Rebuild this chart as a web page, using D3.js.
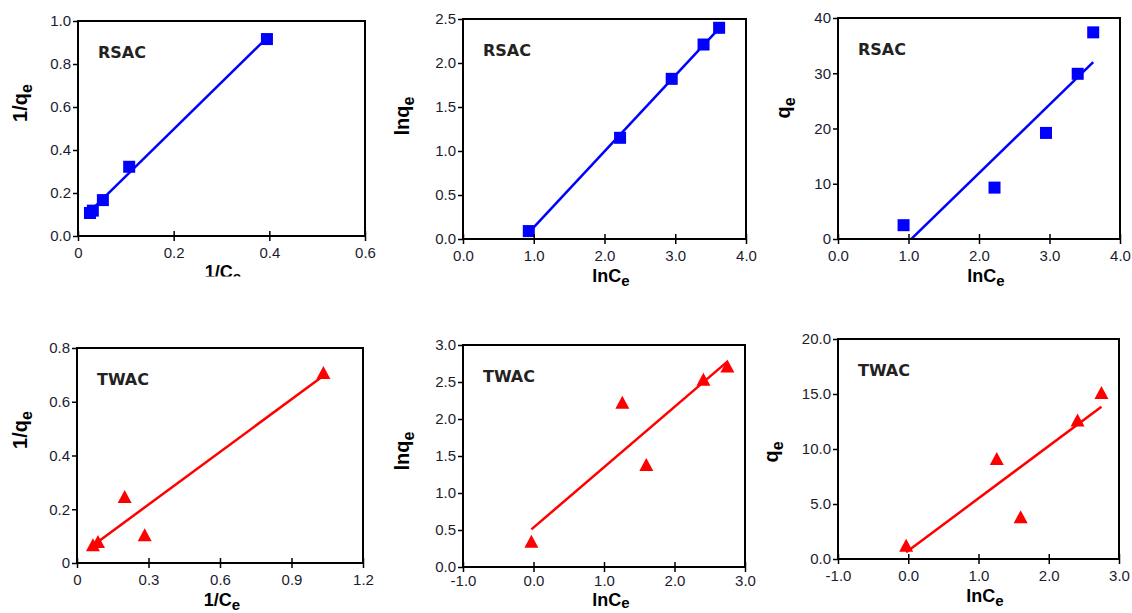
<!DOCTYPE html>
<html>
<head>
<meta charset="utf-8">
<script src="https://cdn.jsdelivr.net/npm/d3@7"></script>
<style>
  body { margin: 0; background: #fff; }
  svg { display: block; }
  .tick text { font-family: "Liberation Sans", Arial, sans-serif; font-size: 15px; fill: #1c1c30; }
  .ttl { font-family: "Liberation Sans", Arial, sans-serif; font-weight: bold; font-size: 18px; fill: #000; }
  .ttl.yt { font-size: 20px; }
  .lbl { font-family: "DejaVu Sans", Verdana, sans-serif; font-weight: bold; font-size: 16px; fill: #222; }
</style>
</head>
<body>
<svg id="chart" width="1132" height="613"></svg>
<script>
// RSAC (squares, blue)
const rsacInvCe = [0.025, 0.031, 0.052, 0.107, 0.395]
const rsacInvQe = [0.107, 0.118, 0.167, 0.322, 0.916]
const rsacLnCe = [0.93, 2.22, 2.95, 3.40, 3.62]
const rsacLnQe = [0.09, 1.15, 1.82, 2.21, 2.40]
const rsacQe = [2.5, 9.3, 19.2, 29.9, 37.4]

// TWAC (triangles, red)
const twacInvCe = [1.034, 0.284, 0.200, 0.088, 0.067]
const twacInvQe = [0.707, 0.103, 0.246, 0.078, 0.066]
const twacLnCe = [-0.03, 1.26, 1.60, 2.41, 2.75]
const twacLnQe = [0.34, 2.22, 1.38, 2.53, 2.71]
const twacQe = [1.2, 9.1, 3.8, 12.6, 15.1]

// tick values and labels
const ticksInvCeR = [0, 0.2, 0.4, 0.6]
const labelsInvCeR = ["0", "0.2", "0.4", "0.6"]
const ticksInvQeR = [0, 0.2, 0.4, 0.6, 0.8, 1.0]
const labelsInvQeR = ["0.0", "0.2", "0.4", "0.6", "0.8", "1.0"]
const ticksLnCeR = [0, 1, 2, 3, 4]
const labelsLnCeR = ["0.0", "1.0", "2.0", "3.0", "4.0"]
const ticksLnQeR = [0, 0.5, 1, 1.5, 2, 2.5]
const labelsLnQeR = ["0.0", "0.5", "1.0", "1.5", "2.0", "2.5"]
const ticksQeR = [0, 10, 20, 30, 40]
const labelsQeR = ["0", "10", "20", "30", "40"]
const ticksInvCeT = [0, 0.3, 0.6, 0.9, 1.2]
const labelsInvCeT = ["0", "0.3", "0.6", "0.9", "1.2"]
const ticksInvQeT = [0, 0.2, 0.4, 0.6, 0.8]
const labelsInvQeT = ["0", "0.2", "0.4", "0.6", "0.8"]
const ticksLnCeT = [-1, 0, 1, 2, 3]
const labelsLnCeT = ["-1.0", "0.0", "1.0", "2.0", "3.0"]
const ticksLnQeT = [0, 0.5, 1, 1.5, 2, 2.5, 3]
const labelsLnQeT = ["0.0", "0.5", "1.0", "1.5", "2.0", "2.5", "3.0"]
const ticksQeT = [0, 5, 10, 15, 20]
const labelsQeT = ["0.0", "5.0", "10.0", "15.0", "20.0"]

const BLUE = "#0000ff"
const RED = "#ff0000"

const svg = d3.select("#chart")

const panels = [
    {x: rsacInvCe, y: rsacInvQe, xt: ticksInvCeR, xl: labelsInvCeR, yt: ticksInvQeR, yl: labelsInvQeR,
     box: [78, 21, 365, 236], xTitle: ["1/C", "e"], yTitle: ["1/q", "e"], xtx: 223, xty: 278, ytx: 27, yty: 103,
     clipTitle: 276.5, name: "RSAC", color: BLUE, marker: "square"},
    {x: rsacLnCe, y: rsacLnQe, xt: ticksLnCeR, xl: labelsLnCeR, yt: ticksLnQeR, yl: labelsLnQeR,
     box: [463, 19, 746, 239], xTitle: ["lnC", "e"], yTitle: ["lnq", "e"], xtx: 611, xty: 282, ytx: 409, yty: 116,
     name: "RSAC", color: BLUE, marker: "square"},
    {x: rsacLnCe, y: rsacQe, xt: ticksLnCeR, xl: labelsLnCeR, yt: ticksQeR, yl: labelsQeR,
     box: [838, 18, 1120, 239], xTitle: ["lnC", "e"], yTitle: ["q", "e"], xtx: 986, xty: 282, ytx: 790, yty: 108,
     name: "RSAC", color: BLUE, marker: "square"},
    {x: twacInvCe, y: twacInvQe, xt: ticksInvCeT, xl: labelsInvCeT, yt: ticksInvQeT, yl: labelsInvQeT,
     box: [77, 348, 363, 563], xTitle: ["1/C", "e"], yTitle: ["1/q", "e"], xtx: 222, xty: 606, ytx: 27, yty: 430,
     name: "TWAC", color: RED, marker: "triangle"},
    {x: twacLnCe, y: twacLnQe, xt: ticksLnCeT, xl: labelsLnCeT, yt: ticksLnQeT, yl: labelsLnQeT,
     box: [463, 345, 745, 567], xTitle: ["lnC", "e"], yTitle: ["lnq", "e"], xtx: 611, xty: 606, ytx: 409, yty: 451,
     subDy: 2, tickY: 19, name: "TWAC", color: RED, marker: "triangle"},
    {x: twacLnCe, y: twacQe, xt: ticksLnCeT, xl: labelsLnCeT, yt: ticksQeT, yl: labelsQeT,
     box: [838, 339, 1119, 559], xTitle: ["lnC", "e"], yTitle: ["q", "e"], xtx: 985, xty: 602, ytx: 778, yty: 452,
     name: "TWAC", color: RED, marker: "triangle"}
]

// least squares fit, used for the trendline
function fit(xs, ys) {
    let mx = d3.mean(xs), my = d3.mean(ys)
    let sxy = 0, sxx = 0
    for (let i = 0; i < xs.length; i++) {
        sxy += (xs[i] - mx) * (ys[i] - my)
        sxx += (xs[i] - mx) * (xs[i] - mx)
    }
    let slope = sxy / sxx
    return {slope: slope, intercept: my - slope * mx}
}

panels.forEach(function(p, idx) {
    let [l, t, r, b] = p.box
    let xs = d3.scaleLinear().domain(d3.extent(p.xt)).range([l, r])
    let ys = d3.scaleLinear().domain(d3.extent(p.yt)).range([b, t])
    let g = svg.append("g")

    let clipId = "clip" + idx
    svg.append("clipPath").attr("id", clipId)
        .append("rect").attr("x", l).attr("y", t).attr("width", r - l).attr("height", b - t)

    // trendline
    let f = fit(p.x, p.y)
    let ext = d3.extent(p.x)
    g.append("line")
        .attr("clip-path", "url(#" + clipId + ")")
        .attr("x1", xs(ext[0])).attr("y1", ys(f.slope * ext[0] + f.intercept))
        .attr("x2", xs(ext[1])).attr("y2", ys(f.slope * ext[1] + f.intercept))
        .attr("stroke", p.color).attr("stroke-width", 2.5)

    // markers
    let pts = p.x.map((v, i) => [v, p.y[i]])
    if (p.marker == "square") {
        g.selectAll(".m").data(pts).enter().append("rect")
            .attr("x", d => xs(d[0]) - 6).attr("y", d => ys(d[1]) - 6)
            .attr("width", 12).attr("height", 12)
            .attr("fill", p.color)
    } else {
        g.selectAll(".m").data(pts).enter().append("path")
            .attr("d", d => {
                let cx = xs(d[0]), cy = ys(d[1])
                return "M" + (cx - 7) + "," + (cy + 6) + "L" + (cx + 7) + "," + (cy + 6) + "L" + cx + "," + (cy - 7) + "Z"
            })
            .attr("fill", p.color)
    }

    // axes
    let xa = g.append("g").attr("transform", "translate(0," + b + ")")
        .call(d3.axisBottom(xs).tickValues(p.xt).tickFormat((d, i) => p.xl[i]).tickSize(5))
    xa.select(".domain").remove()
    xa.selectAll(".tick line").attr("y1", -5).attr("stroke", "#000").attr("stroke-width", 1.5)
    xa.selectAll(".tick text").attr("y", p.tickY || 22).attr("dy", 0)

    let ya = g.append("g").attr("transform", "translate(" + l + ",0)")
        .call(d3.axisLeft(ys).tickValues(p.yt).tickFormat((d, i) => p.yl[i]).tickSize(5))
    ya.select(".domain").remove()
    ya.selectAll(".tick line").attr("stroke", "#000").attr("stroke-width", 1.5)
    ya.selectAll(".tick text").attr("x", -7)
    svg.selectAll(".tick text").attr("font-family", null).attr("font-size", null)

    // plot frame
    g.append("rect").attr("x", l).attr("y", t).attr("width", r - l).attr("height", b - t)
        .attr("fill", "none").attr("stroke", "#000").attr("stroke-width", 2)

    // sample label
    g.append("text").attr("class", "lbl").attr("x", l + 20).attr("y", t + 37).text(p.name)

    // x title
    let xt = g.append("text").attr("class", "ttl").attr("x", p.xtx).attr("y", p.xty).attr("text-anchor", "middle")
    xt.append("tspan").text(p.xTitle[0])
    xt.append("tspan").attr("dy", p.subDy || 4).attr("font-size", 15).text(p.xTitle[1])
    if (p.clipTitle) {
        svg.append("clipPath").attr("id", "tclip" + idx)
            .append("rect").attr("x", 0).attr("y", 0).attr("width", 1132).attr("height", p.clipTitle)
        xt.attr("clip-path", "url(#tclip" + idx + ")")
    }

    // y title
    let yt = g.append("text").attr("class", "ttl yt").attr("text-anchor", "middle")
        .attr("transform", "translate(" + p.ytx + "," + p.yty + ") rotate(-90)")
    yt.append("tspan").text(p.yTitle[0])
    yt.append("tspan").attr("dy", 5).attr("font-size", 16).text(p.yTitle[1])
})
</script>
</body>
</html>
